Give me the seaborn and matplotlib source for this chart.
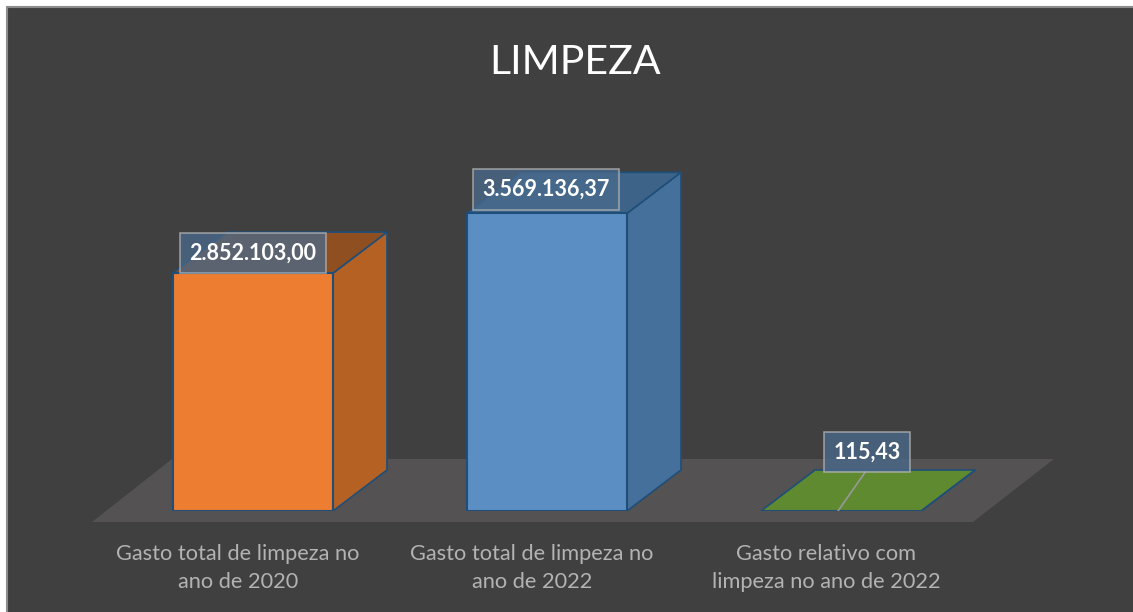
import matplotlib
matplotlib.use("Agg")
import matplotlib.pyplot as plt
import pandas as pd
import seaborn as sns
from matplotlib.patches import Polygon, Rectangle
from matplotlib.transforms import ScaledTranslation

categorias = ["Gasto total de limpeza no\nano de 2020",
              "Gasto total de limpeza no\nano de 2022",
              "Gasto relativo com\nlimpeza no ano de 2022"]
valores = [2852103.00, 3569136.37, 115.43]
rotulos = ["2.852.103,00", "3.569.136,37", "115,43"]

cor_frente = ["#ed7d31", "#5b8fc3", "#5f8a30"]
cor_lado = ["#b56124", "#44709b", "#5f8a30"]
cor_topo = ["#8f4f20", "#3d6388", "#5f8a30"]
cor_borda = "#1f4e79"
fundo = "#404040"

L, A = 1133, 612
sns.set_theme(style="white")
plt.rcParams["font.family"] = ["Lato", "DejaVu Sans"]

fig = plt.figure(figsize=(L / 100, A / 100), dpi=100, facecolor="white")

# painel escuro com borda cinza (so aparece em cima e a esquerda)
fig.add_artist(Rectangle((7 / L, -0.02), (L + 20) / L, (A - 7) / A + 0.02, transform=fig.transFigure,
                         facecolor=fundo, edgecolor="#8c8c8c", linewidth=1.5, zorder=-1))

# eixo posicionado em pixels: base das barras em y=511
x0, x1, y0, y1 = 106, 988, 511, 94
ax = fig.add_axes([x0 / L, 1 - y0 / A, (x1 - x0) / L, (y0 - y1) / A])
ax.patch.set_alpha(0)

df = pd.DataFrame({"categoria": categorias, "valor": valores})
sns.barplot(data=df, x="categoria", y="valor", hue="categoria", palette=cor_frente,
            legend=False, width=0.544, saturation=1, ax=ax, zorder=4,
            edgecolor=cor_borda, linewidth=1.5)
ax.set_xlim(-0.5, 2.5)
ax.set_ylim(0, 5000000)

# tamanho de um pixel em unidades de dados
px_x = 3 / (x1 - x0)
px_y = 5000000 / (y0 - y1)
dx, dy = 54 * px_x, 41 * px_y

# piso
ax.add_patch(Polygon([(-0.5 - 14 * px_x, -11 * px_y), (2.5 - 15 * px_x, -11 * px_y),
                      (2.5 + 66 * px_x, 52 * px_y), (-0.5 + 66 * px_x, 52 * px_y)],
                     closed=True, facecolor="#545252", edgecolor="none", zorder=1, clip_on=False))

# faces laterais e de cima a partir das barras
for i, barra in enumerate(ax.patches[:3]):
    xe, xd = barra.get_x(), barra.get_x() + barra.get_width()
    h = barra.get_height()
    ax.add_patch(Polygon([(xd, 0), (xd + dx, dy), (xd + dx, h + dy), (xd, h)], closed=True,
                         facecolor=cor_lado[i], edgecolor=cor_borda, linewidth=1.2, zorder=3))
    ax.add_patch(Polygon([(xe, h), (xe + dx, h + dy), (xd + dx, h + dy), (xd, h)], closed=True,
                         facecolor=cor_topo[i], edgecolor=cor_borda, linewidth=1.2, zorder=3))

# linha guia do terceiro rotulo
ax.plot([2 - 3 * px_x, 2 + 25 * px_x], [0, 40 * px_y], color="#999999", linewidth=1.2, zorder=5)

# rotulos de dados
deslocamentos = [(0, 20), (-1, 24), (26, 59)]
for i, texto in enumerate(rotulos):
    ax.annotate(texto, (i, valores[i]), xytext=deslocamentos[i], textcoords="offset pixels",
                ha="center", va="center", color="white", fontsize=15.5, fontweight="bold", zorder=6,
                bbox=dict(boxstyle="square,pad=0.45", facecolor="#4a6a8c", alpha=0.75,
                          edgecolor="#b4b4b4", linewidth=1.2))

ax.set_xlabel("")
ax.set_ylabel("")
ax.set_yticks([])
ax.tick_params(axis="x", length=0, pad=24, labelsize=15.7, labelcolor="#b3b3b3")
for lb in ax.get_xticklabels():
    lb.set_linespacing(1.47)
    lb.set_transform(lb.get_transform() + ScaledTranslation(-15 / 100, 0, fig.dpi_scale_trans))
sns.despine(ax=ax, left=True, bottom=True)

fig.text(575 / L, 1 - 62 / A, "LIMPEZA", ha="center", va="center", color="white", fontsize=29.5)

fig.savefig("out.png", dpi=100, facecolor="white")
